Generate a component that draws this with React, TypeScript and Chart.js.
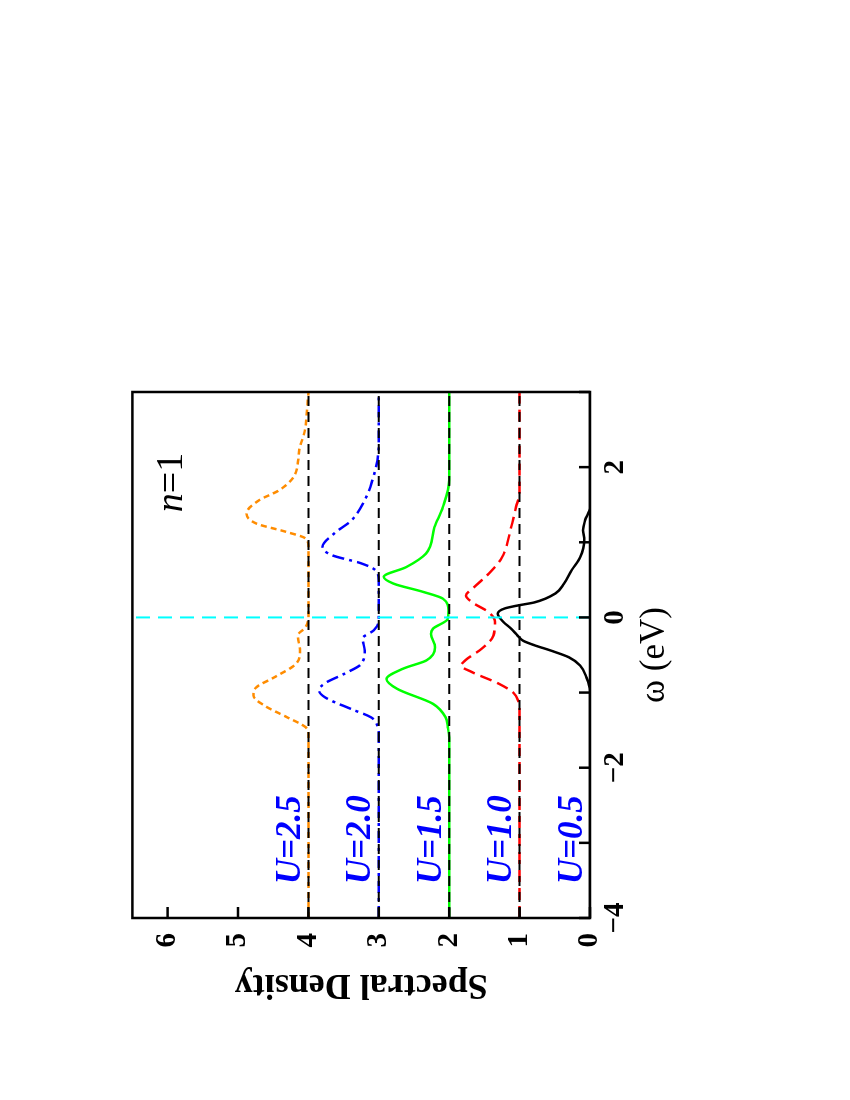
import React, { useEffect, useRef } from "react";
import { Chart, registerables } from "chart.js";

Chart.register(...registerables);

// ---- data (ω in eV, spectral density incl. vertical offset) ----
const omegaU05 = [-4, -1.2, -0.97, -0.8, -0.64, -0.53, -0.44, -0.37, -0.31, -0.26, -0.22, -0.15, -0.06, 0.05, 0.12, 0.16, 0.2, 0.32, 0.45, 0.63, 0.8, 1.03, 1.16, 1.29, 1.47, 1.6, 3];
const densU05 = [0, 0, 0.0, 0.05, 0.14, 0.3, 0.56, 0.79, 0.95, 1.01, 1.05, 1.12, 1.23, 1.31, 1.21, 1.02, 0.79, 0.49, 0.37, 0.26, 0.14, 0.08, 0.1, 0.07, 0, 0, 0];

const omegaU10 = [-4, -1.25, -1.11, -1.0, -0.88, -0.73, -0.64, -0.57, -0.41, -0.24, -0.06, 0.07, 0.2, 0.29, 0.4, 0.58, 0.8, 1.2, 1.47, 1.65, 3];
const densU10 = [1, 1.0, 1.02, 1.09, 1.3, 1.67, 1.83, 1.77, 1.53, 1.37, 1.35, 1.44, 1.67, 1.76, 1.65, 1.44, 1.25, 1.12, 1.05, 1.0, 1];

const omegaU15 = [-4, -1.6, -1.46, -1.33, -1.15, -0.95, -0.82, -0.68, -0.57, -0.4, -0.22, -0.15, -0.02, 0.09, 0.25, 0.34, 0.45, 0.54, 0.67, 0.85, 1.2, 1.47, 1.83, 3];
const densU15 = [2, 2.0, 2.02, 2.05, 2.23, 2.74, 2.89, 2.65, 2.32, 2.2, 2.26, 2.23, 2.02, 2.01, 2.09, 2.37, 2.79, 2.93, 2.61, 2.33, 2.21, 2.09, 2.0, 2];

const omegaU20 = [-4, -1.55, -1.44, -1.33, -1.22, -1.06, -0.97, -0.88, -0.75, -0.62, -0.44, -0.28, -0.17, -0.04, 0.49, 0.63, 0.72, 0.83, 0.94, 1.12, 1.29, 1.6, 1.83, 2.09, 2.36, 3];
const densU20 = [3, 3.0, 3.02, 3.11, 3.39, 3.77, 3.85, 3.77, 3.49, 3.25, 3.2, 3.23, 3.07, 3.0, 3.0, 3.05, 3.25, 3.67, 3.8, 3.63, 3.39, 3.18, 3.09, 3.02, 3.0, 3];

const omegaU25 = [-4, -1.55, -1.46, -1.33, -1.17, -1.04, -0.93, -0.8, -0.62, -0.44, -0.24, -0.13, 0.0, 0.95, 1.05, 1.14, 1.25, 1.38, 1.56, 1.69, 1.87, 2.05, 2.23, 2.49, 2.75, 3];
const densU25 = [4, 4.0, 4.04, 4.3, 4.63, 4.78, 4.74, 4.49, 4.18, 4.12, 4.15, 4.04, 4.0, 4.0, 4.04, 4.32, 4.74, 4.88, 4.7, 4.42, 4.21, 4.15, 4.13, 4.05, 4.02, 4.0];

const baselineLevels = [1, 2, 3, 4];
const uLabels = ["U=0.5", "U=1.0", "U=1.5", "U=2.0", "U=2.5"];
const uLabelLevels = [0, 1, 2, 3, 4];
const omegaTickValues = [-4, -3, -2, -1, 0, 1, 2, 3];
const densityTickValues = [0, 1, 2, 3, 4, 5, 6];

const FONT = "'Liberation Serif', 'Times New Roman', serif";

const zip = (xs: number[], ys: number[]) => xs.map((x, i) => ({ x, y: ys[i] }));

const decoPlugin = {
  id: "deco",
  afterDatasetsDraw(chart: any) {
    const { ctx, chartArea: a, scales } = chart;
    const xs = scales.x;
    const ys = scales.y;
    ctx.save();
    // frame
    ctx.strokeStyle = "#000";
    ctx.lineWidth = 2.5;
    ctx.setLineDash([]);
    ctx.strokeRect(a.left, a.top, a.right - a.left, a.bottom - a.top);
    // inside ticks
    ctx.lineWidth = 2.5;
    omegaTickValues.forEach((v) => {
      const px = xs.getPixelForValue(v);
      ctx.beginPath();
      ctx.moveTo(px, a.bottom);
      ctx.lineTo(px, a.bottom - 11);
      ctx.stroke();
    });
    densityTickValues.forEach((v) => {
      const py = ys.getPixelForValue(v);
      ctx.beginPath();
      ctx.moveTo(a.left, py);
      ctx.lineTo(a.left + 11, py);
      ctx.stroke();
    });
    // U labels
    ctx.fillStyle = "#0000FF";
    ctx.font = `italic bold 35px ${FONT}`;
    ctx.textAlign = "left";
    ctx.textBaseline = "alphabetic";
    uLabels.forEach((t, i) => {
      ctx.fillText(t, xs.getPixelForValue(-3.55), ys.getPixelForValue(uLabelLevels[i] + 0.12));
    });
    // n=1
    ctx.fillStyle = "#000";
    const nx = xs.getPixelForValue(1.4);
    const ny = ys.getPixelForValue(5.79);
    ctx.font = `italic 38px ${FONT}`;
    ctx.fillText("n", nx, ny);
    const w = ctx.measureText("n").width;
    ctx.font = `38px ${FONT}`;
    ctx.fillText("=1", nx + w, ny);
    ctx.restore();
  },
};

export default function App() {
  const ref = useRef<HTMLCanvasElement | null>(null);

  useEffect(() => {
    if (!ref.current) return;
    const curve = (xs: number[], ys: number[], color: string, dash: number[]) => ({
      data: zip(xs, ys),
      borderColor: color,
      borderWidth: 2.5,
      borderDash: dash,
      pointRadius: 0,
      fill: false,
      cubicInterpolationMode: "monotone",
      order: 2,
    });
    const datasets: any[] = [
      curve(omegaU05, densU05, "#000000", []),
      curve(omegaU10, densU10, "#FF0000", [12, 6]),
      curve(omegaU15, densU15, "#00FF00", []),
      curve(omegaU20, densU20, "#0000FF", [12, 5, 3, 5]),
      curve(omegaU25, densU25, "#FF8C00", [6, 4]),
      ...baselineLevels.map((b) => ({
        data: [
          { x: -4, y: b },
          { x: 3, y: b },
        ],
        borderColor: "#000000",
        borderWidth: 2,
        borderDash: [10, 6],
        pointRadius: 0,
        tension: 0,
        order: 1,
      })),
      {
        data: [
          { x: 0, y: 0 },
          { x: 0, y: 6.5 },
        ],
        borderColor: "#00FFFF",
        borderWidth: 2,
        borderDash: [14, 8],
        pointRadius: 0,
        tension: 0,
        order: 0,
      },
    ];

    const chart = new Chart(ref.current, {
      type: "line",
      data: { datasets },
      options: {
        animation: false,
        responsive: false,
        devicePixelRatio: 1,
        layout: { padding: { left: 0, top: 24, right: 32, bottom: 0 } },
        plugins: { legend: { display: false }, tooltip: { enabled: false } },
        scales: {
          x: {
            type: "linear",
            min: -4,
            max: 3,
            grid: { display: false, drawTicks: false },
            border: { display: false },
            ticks: {
              stepSize: 1,
              autoSkip: false,
              maxRotation: 0,
              padding: 8,
              color: "#000",
              font: { family: FONT, size: 29, weight: "bold" },
              callback: (v: any) => {
                const n = Number(v);
                if (Math.abs(n % 2) !== 0) return "";
                return n < 0 ? "\u2212" + Math.abs(n) : String(n);
              },
            },
            title: {
              display: true,
              text: "ω (eV)",
              color: "#000",
              font: { family: FONT, size: 35 },
              padding: { top: 0, bottom: 24 },
            },
            afterFit: (s: any) => {
              s.height = 110;
            },
          },
          y: {
            type: "linear",
            min: 0,
            max: 6.5,
            grid: { display: false, drawTicks: false },
            border: { display: false },
            ticks: {
              stepSize: 1,
              autoSkip: false,
              padding: 15,
              color: "#000",
              font: { family: FONT, size: 29, weight: "bold" },
              callback: (v: any) => (Number.isInteger(Number(v)) ? String(v) : ""),
            },
            title: {
              display: true,
              text: "Spectral Density",
              color: "#000",
              font: { family: FONT, size: 36, weight: "bold" },
              padding: { top: 34, bottom: 0 },
            },
            afterFit: (s: any) => {
              s.width = 122;
            },
          },
        },
      } as any,
      plugins: [decoPlugin],
    });
    return () => chart.destroy();
  }, []);

  return (
    <div
      style={{
        position: "fixed",
        left: 0,
        top: 0,
        width: 850,
        height: 1100,
        overflow: "hidden",
        background: "#fff",
      }}
    >
      <canvas
        ref={ref}
        width={680}
        height={600}
        style={{
          position: "absolute",
          left: 100,
          top: 1040,
          width: 680,
          height: 600,
          transform: "rotate(-90deg)",
          transformOrigin: "top left",
        }}
      />
    </div>
  );
}
